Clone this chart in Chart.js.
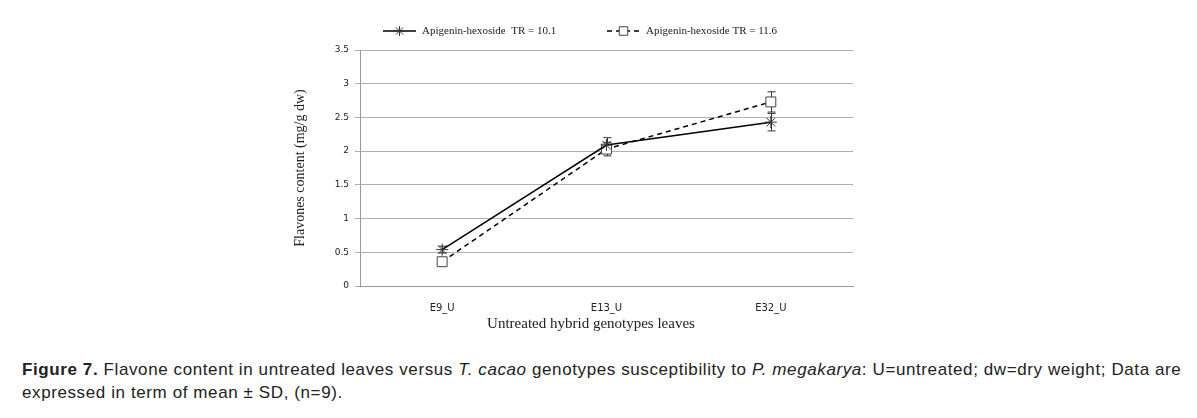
<!DOCTYPE html>
<html>
<head>
<meta charset="utf-8">
<script src="https://cdn.jsdelivr.net/npm/chart.js@4/dist/chart.umd.min.js"></script>
<style>
  html, body { margin: 0; padding: 0; background: #fff; }
  #wrap { position: relative; width: 1197px; height: 345px; }
  #caption {
    position: absolute; left: 22px; top: 358px; width: 1174px;
    font-family: "Liberation Sans", Arial, sans-serif;
    font-size: 17px; line-height: 23px; letter-spacing: 0.6px; color: #222;
  }
  #caption b { font-weight: bold; }
</style>
</head>
<body>
<div id="wrap"><canvas id="grafico"></canvas></div>
<div id="caption"><b>Figure 7.</b> Flavone content in untreated leaves versus <i>T. cacao</i> genotypes susceptibility to <i>P. megakarya</i>: U=untreated; dw=dry weight; Data are expressed in term of mean ± SD, (n=9).</div>

<script>
// ==================== DATA ====================
const categorias = ['E9_U', 'E13_U', 'E32_U'];
const serie1Nombre = 'Apigenin-hexoside  TR = 10.1';
const serie1Valores = [0.54, 2.09, 2.43];
const serie1Error = [0.05, 0.11, 0.13];
const serie2Nombre = 'Apigenin-hexoside TR = 11.6';
const serie2Valores = [0.36, 2.03, 2.73];
const serie2Error = [0.03, 0.10, 0.15];
const ejeY = { min: 0, max: 3.5, paso: 0.5 };
const tituloY = 'Flavones content (mg/g dw)';
const tituloX = 'Untreated hybrid genotypes leaves';

// ==================== ERROR BARS ====================
const barrasError = {
    id: 'barrasError',
    beforeDatasetsDraw(chart) {
        const ctx = chart.ctx;
        const y = chart.scales.y;
        chart.data.datasets.forEach((ds, i) => {
            const meta = chart.getDatasetMeta(i);
            ctx.save();
            ctx.strokeStyle = '#333';
            ctx.lineWidth = 1;
            ds.errores.forEach((e, j) => {
                const px = Math.round(meta.data[j].x) + 0.5;
                const top = y.getPixelForValue(ds.data[j] + e);
                const bot = y.getPixelForValue(ds.data[j] - e);
                ctx.beginPath();
                ctx.moveTo(px, top); ctx.lineTo(px, bot);
                ctx.moveTo(px - 4, top); ctx.lineTo(px + 4, top);
                ctx.moveTo(px - 4, bot); ctx.lineTo(px + 4, bot);
                ctx.stroke();
            });
            ctx.restore();
        });
    }
};

// ==================== LEGEND + X TITLE ====================
const leyenda = {
    id: 'leyenda',
    afterDraw(chart) {
        const ctx = chart.ctx;
        const items = [{ x: 383, ds: chart.data.datasets[0] }, { x: 607, ds: chart.data.datasets[1] }];
        const yL = 31;
        ctx.save();
        items.forEach(it => {
            const ds = it.ds;
            ctx.strokeStyle = ds.borderColor;
            ctx.lineWidth = ds.borderWidth;
            ctx.setLineDash(ds.borderDash || []);
            ctx.beginPath();
            ctx.moveTo(it.x, yL); ctx.lineTo(it.x + 33, yL);
            ctx.stroke();
            ctx.setLineDash([]);
            ctx.fillStyle = ds.pointBackgroundColor;
            ctx.strokeStyle = ds.pointBorderColor;
            ctx.lineWidth = 1;
            Chart.helpers.drawPoint(ctx, { pointStyle: ds.pointStyle, radius: ds.pointRadius - 1, borderWidth: 1, rotation: 0 }, it.x + 16.5, yL);
            ctx.fillStyle = '#222';
            ctx.font = '11px "Liberation Serif", serif';
            ctx.textBaseline = 'middle';
            ctx.textAlign = 'left';
            ctx.fillText(ds.label, it.x + 39, yL);
        });
        // titulo del eje X
        ctx.font = '15px "Liberation Serif", serif';
        ctx.textAlign = 'center';
        ctx.fillText(tituloX, 591, 324);
        ctx.restore();
    }
};

// ==================== CHART ====================
new Chart(document.getElementById('grafico'), {
    type: 'line',
    data: {
        labels: categorias,
        datasets: [{
            label: serie1Nombre,
            data: serie1Valores,
            errores: serie1Error,
            borderColor: '#000',
            borderWidth: 1.5,
            pointStyle: 'star',
            pointRadius: 6,
            pointBorderColor: '#333',
            pointBackgroundColor: '#333',
            pointBorderWidth: 1,
            tension: 0
        }, {
            label: serie2Nombre,
            data: serie2Valores,
            errores: serie2Error,
            borderColor: '#000',
            borderWidth: 1.5,
            borderDash: [5, 4],
            pointStyle: 'rect',
            pointRadius: 7,
            pointBorderColor: '#444',
            pointBackgroundColor: '#fff',
            pointBorderWidth: 1,
            tension: 0
        }]
    },
    options: {
        responsive: true,
        maintainAspectRatio: false,
        animation: false,
        layout: { padding: { left: 292, right: 344, top: 50, bottom: 0 } },
        plugins: {
            legend: { display: false },
            tooltip: { enabled: false }
        },
        scales: {
            x: {
                offset: true,
                grid: { display: false },
                border: { display: true, color: '#9a9a9a' },
                ticks: { color: '#222', padding: 8, font: { family: 'DejaVu Sans', size: 10 } },
                afterFit: s => { s.height = 59; }
            },
            y: {
                min: ejeY.min,
                max: ejeY.max,
                ticks: {
                    stepSize: ejeY.paso,
                    color: '#222',
                    padding: 6,
                    font: { family: 'DejaVu Sans', size: 9 },
                    callback: v => String(Number(v.toFixed(1)))
                },
                grid: { color: '#b0b0b0', tickLength: 5 },
                border: { display: true, color: '#9a9a9a' },
                title: {
                    display: true,
                    text: tituloY,
                    color: '#222',
                    font: { family: 'Liberation Serif', size: 14 },
                    padding: { top: 0, bottom: 0 }
                },
                afterFit: s => { s.width = 68; }
            }
        }
    },
    plugins: [barrasError, leyenda]
});
</script>
</body>
</html>
